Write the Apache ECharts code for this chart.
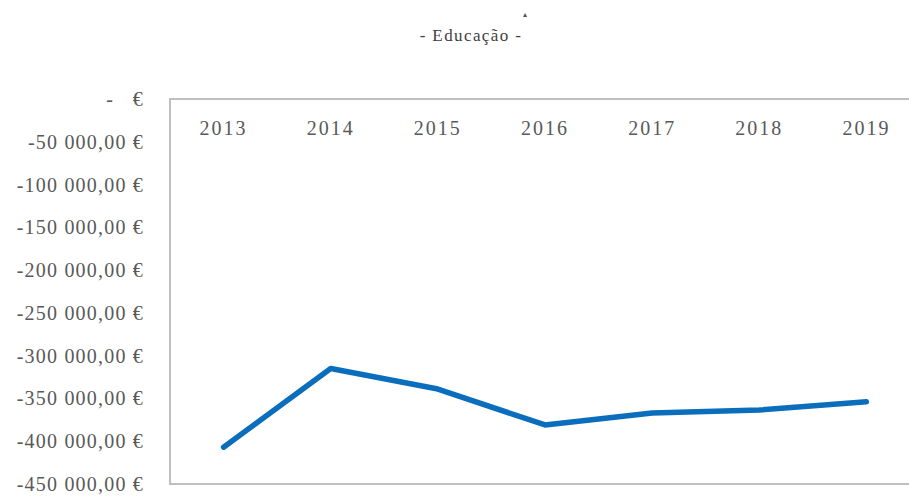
<!DOCTYPE html>
<html>
<head>
<meta charset="utf-8">
<script src="https://cdn.jsdelivr.net/npm/echarts@6/dist/echarts.min.js"></script>
<style>
  html, body { margin: 0; padding: 0; background: #fff; }
  #chart { width: 909px; height: 496px; }
</style>
</head>
<body>
<div id="chart"></div>
<script>
// Annual balance for the education sector, in euros
const years = ['2013', '2014', '2015', '2016', '2017', '2018', '2019'];
const educacao = [-407000, -315000, -339000, -381000, -367000, -363500, -354000];
const yTicks = [0, -50000, -100000, -150000, -200000, -250000, -300000, -350000, -400000, -450000];

// Accounting-style euro format: zero shows as a dash
function euro(v) {
  if (v === 0) return '-   €';
  const neg = v < 0;
  const abs = Math.abs(v);
  const intPart = Math.floor(abs).toString().replace(/\B(?=(\d{3})+(?!\d))/g, ' ');
  const dec = (abs % 1).toFixed(2).slice(2);
  return (neg ? '-' : '') + intPart + ',' + dec + ' €';
}

const chart = echarts.init(document.getElementById('chart'), null, { renderer: 'svg' });
const serif = '"Liberation Serif", "DejaVu Serif", serif';

chart.setOption({
  animation: false,
  backgroundColor: '#ffffff',
  title: {
    text: '- Educação -',
    left: 466,
    top: 22,
    textAlign: 'center',
    textStyle: { fontFamily: serif, fontSize: 17, fontWeight: 'normal', color: '#404040' }
  },
  graphic: [{
    type: 'text',
    left: 523,
    top: 10,
    style: { text: '▴', fontSize: 8, fill: '#555', fontFamily: serif }
  }],
  grid: {
    left: 170,
    width: 750,
    top: 99,
    bottom: 12,
    show: true,
    borderColor: '#BFBFBF',
    borderWidth: 2,
    containLabel: false,
    outerBoundsMode: 'none'
  },
  xAxis: {
    type: 'category',
    data: years,
    position: 'top',
    boundaryGap: true,
    axisLine: { show: false },
    axisTick: { show: false },
    axisLabel: {
      inside: true,
      margin: 19,
      fontFamily: serif,
      fontSize: 20,
      color: '#595959'
    },
    splitLine: { show: false }
  },
  yAxis: {
    type: 'value',
    min: Math.min(...yTicks),
    max: Math.max(...yTicks),
    interval: 50000,
    axisLine: { show: false },
    axisTick: { show: false },
    splitLine: { show: false },
    axisLabel: {
      margin: 26,
      fontFamily: serif,
      fontSize: 20,
      color: '#595959',
      padding: [8, 0, 0, 0],
      formatter: function (v) { return euro(v); }
    }
  },
  series: [{
    type: 'line',
    data: educacao,
    symbol: 'none',
    lineStyle: { color: '#0B6EBD', width: 5.5, cap: 'round', join: 'round' }
  }]
});

// Widen the tracking of the chart texts
document.querySelectorAll('#chart text').forEach(function (t) {
  const s = t.textContent;
  if (years.indexOf(s) >= 0) t.style.letterSpacing = '2px';
  else if (s.indexOf('€') >= 0) t.style.letterSpacing = '1.2px';
  else if (s.indexOf('Educa') >= 0) t.style.letterSpacing = '1.4px';
});
</script>
</body>
</html>
